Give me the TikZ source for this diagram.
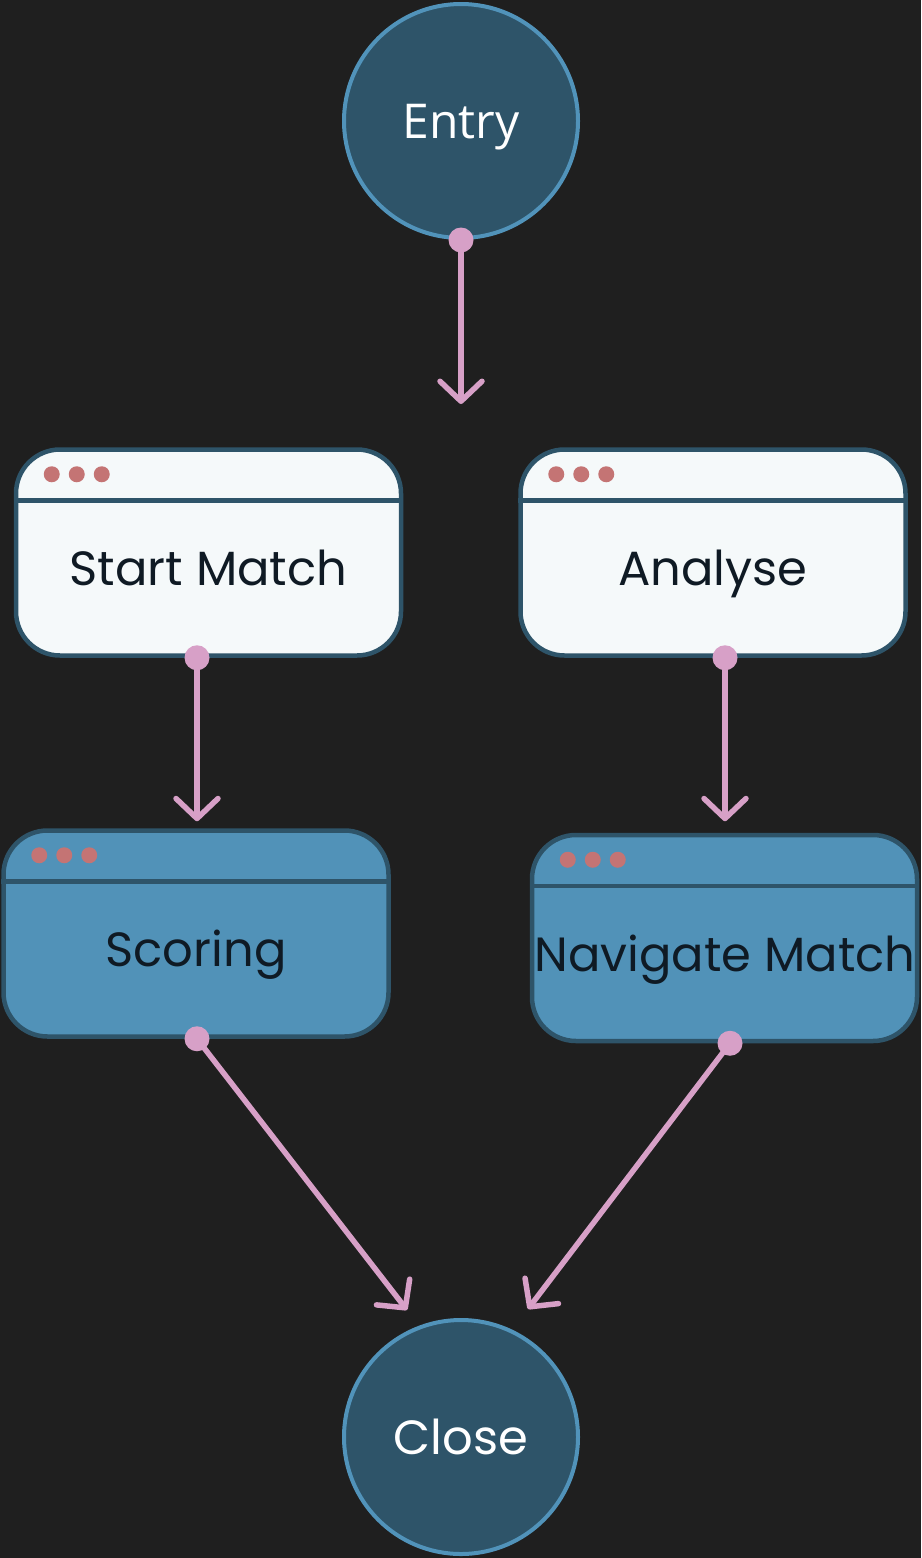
\documentclass[tikz,border=0pt]{standalone}
\usepackage{fontspec}
\setmainfont{Poppins}
\newfontfamily\entryfont{Open Sans}
\usetikzlibrary{arrows.meta}
\definecolor{bg}{HTML}{1F1F1F}
\definecolor{circfill}{HTML}{2E5469}
\definecolor{circline}{HTML}{5193BA}
\definecolor{boxline}{HTML}{2E5469}
\definecolor{whitefill}{HTML}{F5F9FA}
\definecolor{bluefill}{HTML}{5192B8}
\definecolor{dotred}{HTML}{C47474}
\definecolor{pink}{HTML}{D7A0C7}
\definecolor{ink}{HTML}{0F1A24}
\tikzset{
  x=1pt,y=-1pt,
  statecirc/.style={circle,draw=circline,fill=circfill,line width=4pt,minimum size=234pt,inner sep=0pt},
  winbox/.style={draw=boxline,line width=4.5pt,rounded corners=44pt,minimum width=385pt,minimum height=206pt,inner sep=0pt},
  boxtext/.style={text=ink,font=\fontsize{48}{58}\selectfont,inner sep=0pt,anchor=base},
  flow/.style={draw=pink,line width=5.5pt,line cap=round,-{Straight Barb[length=20pt,width=42pt,line width=5.5pt,round]}},
  pdot/.style={fill=pink},
}
\newcommand{\winchrome}[1]{%
  \draw[boxline,line width=4.5pt] ([yshift=-53pt]#1.north west) -- ([yshift=-53pt]#1.north east);
  \fill[dotred] ([xshift=38pt,yshift=-27pt]#1.north west) circle (8pt);
  \fill[dotred] ([xshift=63pt,yshift=-27pt]#1.north west) circle (8pt);
  \fill[dotred] ([xshift=88pt,yshift=-27pt]#1.north west) circle (8pt);
}
\begin{document}
\begin{tikzpicture}
\fill[bg] (0,0) rectangle (921,1558);
\useasboundingbox (0,0) rectangle (921,1558);

\node[statecirc] (entry) at (461,121) {};
\node[text=white,font=\entryfont\fontsize{48}{58}\selectfont,inner sep=0pt,anchor=base] (entrytxt) at (461,138) {Entry};
\node[statecirc] (close) at (461,1437) {};
\node[text=white,font=\fontsize{48}{58}\selectfont,inner sep=0pt,anchor=base] (closetxt) at (461,1454) {Close};

\node[winbox,fill=whitefill] (start) at (208.5,552.5) {};
\winchrome{start}
\node[boxtext] (starttxt) at (208.5,585) {Start Match};

\node[winbox,fill=whitefill] (analyse) at (713,552.5) {};
\winchrome{analyse}
\node[boxtext] (analysetxt) at (713,585) {Analyse};

\node[winbox,fill=bluefill] (scoring) at (196,933.5) {};
\winchrome{scoring}
\node[boxtext] (scoringtxt) at (196,966) {Scoring};

\node[winbox,fill=bluefill] (navigate) at (724.5,938) {};
\winchrome{navigate}
\node[boxtext] (navigatetxt) at (725,971) {Navigate Match};

\coordinate (entryend) at (461,404);
\coordinate (sdot) at ([xshift=-11.5pt]start.south);
\coordinate (adot) at ([xshift=12pt]analyse.south);
\coordinate (scdot) at ([xshift=1pt]scoring.south);
\coordinate (ndot) at ([xshift=5.5pt]navigate.south);
\coordinate (sin) at ([yshift=7pt]sdot |- scoring.north);
\coordinate (ain) at ([yshift=7pt]adot |- scoring.north);
\coordinate (cin1) at (407,1310);
\coordinate (cin2) at (528,1309);

\draw[flow] (entry.south) -- (entryend);
\draw[flow] (sdot) -- (sin);
\draw[flow] (adot) -- (ain);
\draw[flow] (scdot) -- (cin1);
\draw[flow] (ndot) -- (cin2);

\fill[pdot] (entry.south) circle (12.5pt);
\fill[pdot] (sdot) circle (12.5pt);
\fill[pdot] (adot) circle (12.5pt);
\fill[pdot] (scdot) circle (12.5pt);
\fill[pdot] (ndot) circle (12.5pt);
\end{tikzpicture}
\end{document}
